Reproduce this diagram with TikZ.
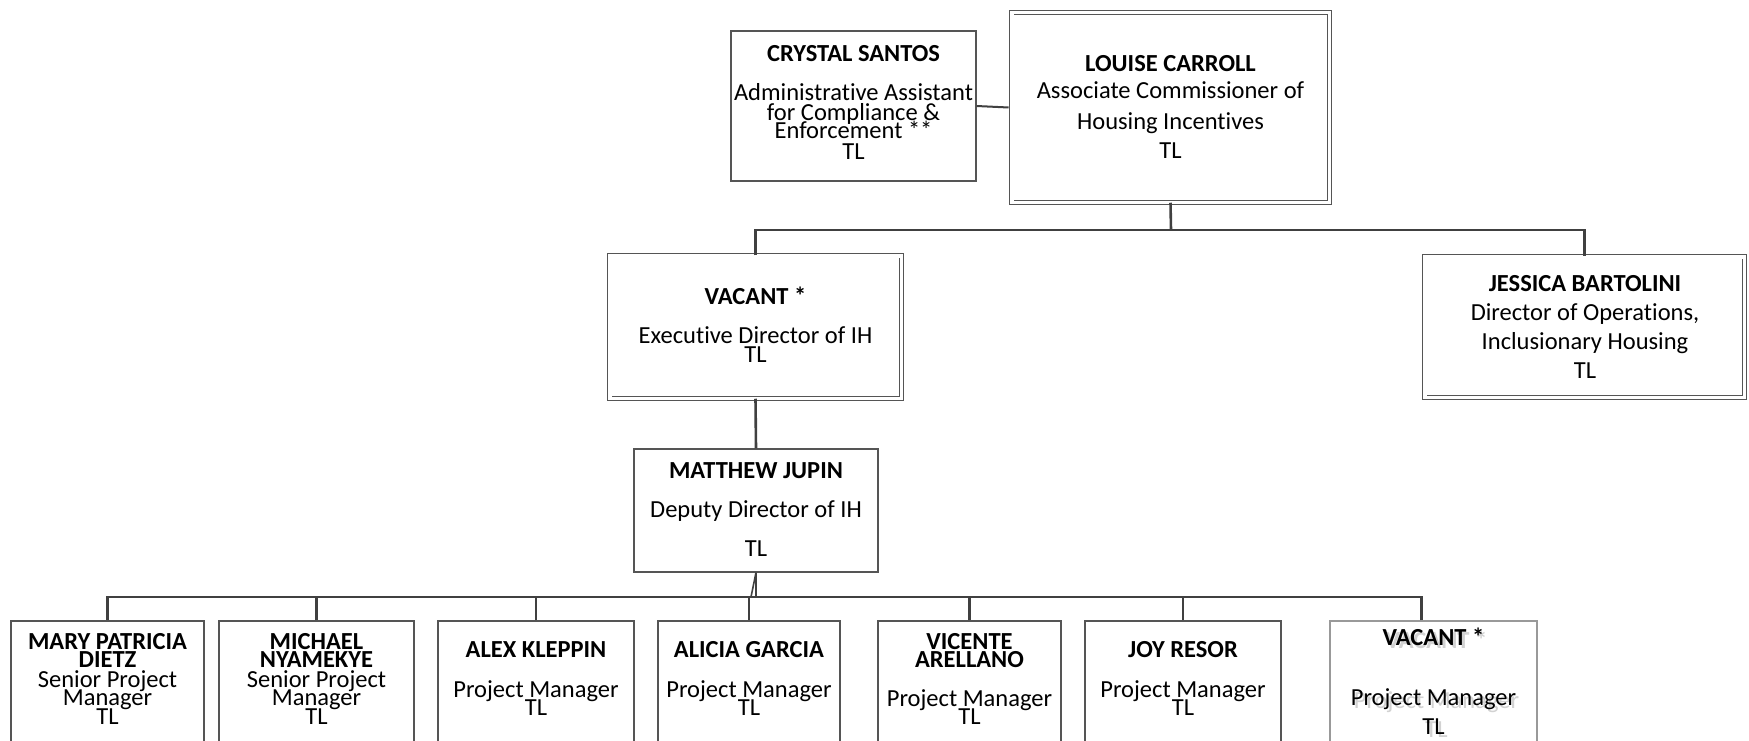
\documentclass[tikz,border=0pt]{standalone}
\usepackage{fontspec}
\setmainfont{Carlito}[RawFeature={-liga;-calt;-dlig;-clig}]
\definecolor{lncol}{HTML}{404040}
\definecolor{bxcol}{HTML}{555555}
\newcommand\Tl[4]{\node[txt] (#1) at (#2,#3+8) {#4};}
\newcommand\Tb[4]{\node[txt,font=\fontsize{24.5}{29}\selectfont\bfseries] (#1) at (#2,#3+8) {#4};}
\newcommand\ti{t\kern0pt i}
\begin{document}
\begin{tikzpicture}[x=1pt,y=-1pt,
  sbox/.style={draw=bxcol, line width=1.1pt, inner sep=0pt, fill=white},
  dbox/.style={draw=bxcol, line width=0.9pt, double=white, double distance=3.6pt, inner sep=0pt},
  conn/.style={draw=lncol, line width=2.6pt},
  txt/.style={font=\fontsize{24.5}{29}\selectfont, inner sep=0pt, anchor=base, text=black}]
\useasboundingbox (0,0) rectangle (1749,741);
\clip (0,0) rectangle (1749,741);
\fill[white] (0,0) rectangle (1749,741);

% boxes
\node[sbox, minimum width=245pt, minimum height=150pt] (cs) at (853.5,106) {};
\node[dbox, minimum width=317.6pt, minimum height=189.6pt] (lc) at (1170.5,107.5) {};
\node[dbox, minimum width=291.6pt, minimum height=142.6pt] (ve) at (755.5,327) {};
\node[dbox, minimum width=319.6pt, minimum height=140.6pt] (jb) at (1584.5,327) {};
\node[sbox, minimum width=244pt, minimum height=123pt] (mj) at (756,510.5) {};
\node[sbox, minimum width=193pt, minimum height=170pt] (mpd) at (107.5,706) {};
\node[sbox, minimum width=195pt, minimum height=170pt] (mn) at (316.5,706) {};
\node[sbox, minimum width=196pt, minimum height=170pt] (ak) at (536,706) {};
\node[sbox, minimum width=182pt, minimum height=170pt] (ag) at (749,706) {};
\node[sbox, minimum width=183pt, minimum height=170pt] (va) at (969.5,706) {};
\node[sbox, minimum width=196pt, minimum height=170pt] (jr) at (1183,706) {};
\node[sbox, draw=gray!80, minimum width=207pt, minimum height=170pt] (vp) at (1433.5,706) {};

% connectors
\coordinate (bus1) at (1171,230);
\coordinate (bus2) at (756,597);
\draw[conn, line width=2pt] (cs.east) -- ([xshift=-2.7pt]lc.west);
\draw[conn] (lc.south) -- (bus1);
\draw[conn] (ve.north) |- (bus1) -| (jb.north);
\draw[conn] (ve.south) -- (mj.north);
\draw[conn] (mj.south) -- (bus2);
\draw[conn, line width=1.6pt] ([xshift=-5pt]bus2) -- (mj.south);
\draw[conn] ([xshift=-12pt]vp.north) |- (bus2) -| (mpd.north);
\draw[conn] (mn.north) -- (mn.north |- bus2);
\draw[conn] (ak.north) -- (ak.north |- bus2);
\draw[conn] (ag.north) -- (ag.north |- bus2);
\draw[conn] (va.north) -- (va.north |- bus2);
\draw[conn] (jr.north) -- (jr.north |- bus2);

% texts
\Tb{cs1}{853.5}{54}{CRYSTAL SANTOS}
\Tl{cs2}{853.5}{93}{Administra\ti ve Assistant}
\Tl{cs3}{853.5}{113}{for Compliance \&}
\Tl{cs4}{853.5}{131}{Enforcement **}
\Tl{cs5}{853.5}{152}{TL}

\Tb{lc1}{1170.5}{64}{LOUISE CARROLL}
\Tl{lc2}{1170.5}{91}{Associate Commissioner of}
\Tl{lc3}{1170.5}{122}{Housing Incen\ti ves}
\Tl{lc4}{1170.5}{151}{TL}

\Tb{ve1}{755.5}{296}{VACANT *}
\Tl{ve2}{755.5}{335}{Execu\ti ve Director of IH}
\Tl{ve3}{755.5}{354}{TL}

\Tb{jb1}{1585}{283}{JESSICA BARTOLINI}
\Tl{jb2}{1585}{312}{Director of Opera\ti ons,}
\Tl{jb3}{1585}{341}{Inclusionary Housing}
\Tl{jb4}{1585}{370}{TL}

\Tb{mj1}{756}{470}{MATTHEW JUPIN}
\Tl{mj2}{756}{509}{Deputy Director of IH}
\Tl{mj3}{756}{548}{TL}

\Tb{mpd1}{107.5}{641}{MARY PATRICIA}
\Tb{mpd2}{107.5}{659}{DIETZ}
\Tl{mpd3}{107.5}{679}{Senior Project}
\Tl{mpd4}{107.5}{697}{Manager}
\Tl{mpd5}{107.5}{716}{TL}

\Tb{mn1}{316.5}{641}{MICHAEL}
\Tb{mn2}{316.5}{659}{NYAMEKYE}
\Tl{mn3}{316.5}{679}{Senior Project}
\Tl{mn4}{316.5}{697}{Manager}
\Tl{mn5}{316.5}{716}{TL}

\Tb{ak1}{536}{649}{ALEX KLEPPIN}
\Tl{ak2}{536}{689}{Project Manager}
\Tl{ak3}{536}{707}{TL}

\Tb{ag1}{749}{649}{ALICIA GARCIA}
\Tl{ag2}{749}{689}{Project Manager}
\Tl{ag3}{749}{707}{TL}

\Tb{va1}{969.5}{641}{VICENTE}
\Tb{va2}{969.5}{659}{ARELLANO}
\Tl{va3}{969.5}{698}{Project Manager}
\Tl{va4}{969.5}{716}{TL}

\Tb{jr1}{1183}{649}{JOY RESOR}
\Tl{jr2}{1183}{689}{Project Manager}
\Tl{jr3}{1183}{707}{TL}

\begin{scope}[txt/.append style={text=gray!35}]
\Tb{vps1}{1436.5}{640}{VACANT *}
\Tl{vps2}{1436.5}{700}{Project Manager}
\Tl{vps3}{1436.5}{729}{TL}
\end{scope}
\Tb{vp1}{1433.5}{637}{VACANT *}
\Tl{vp2}{1433.5}{697}{Project Manager}
\Tl{vp3}{1433.5}{726}{TL}
\end{tikzpicture}
\end{document}
